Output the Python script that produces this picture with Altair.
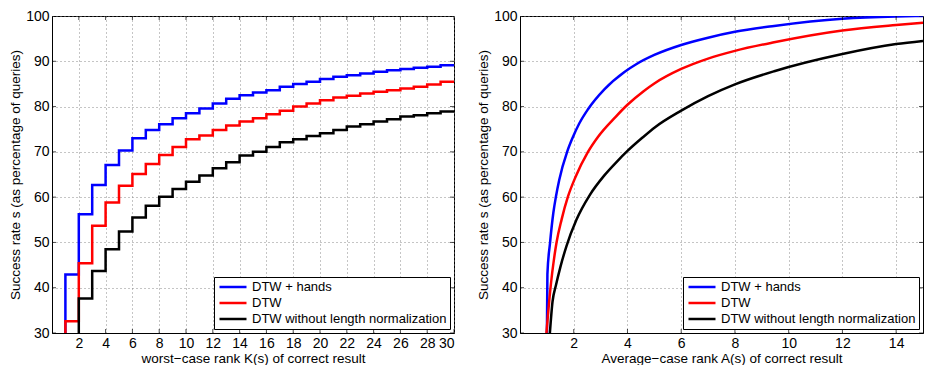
import altair as alt
import pandas as pd

series_names = ["DTW + hands", "DTW", "DTW without length normalization"]
series_colors = ["#0000ff", "#ff0000", "#000000"]

# ---- left panel: worst-case rank K(s), stair plot ----
rank_k = list(range(0, 31))
hands_k = [0, 42.9, 56.2, 62.7, 67.1, 70.3, 73.0, 74.8, 76.1, 77.4, 78.5, 79.6,
           80.7, 81.7, 82.5, 83.1, 83.6, 84.4, 85.0, 85.5, 86.1, 86.6, 86.9,
           87.3, 87.7, 88.0, 88.3, 88.6, 88.8, 89.1, 89.1]
dtw_k = [0, 32.6, 45.4, 53.7, 58.8, 62.5, 65.1, 67.3, 69.3, 71.1, 72.8, 73.6,
         74.8, 75.8, 76.7, 77.4, 78.3, 79.1, 80.0, 80.7, 81.4, 82.0, 82.4,
         82.9, 83.3, 83.6, 84.0, 84.4, 84.9, 85.5, 85.5]
nolen_k = [0, 26.0, 37.6, 43.7, 48.5, 52.4, 55.5, 58.1, 60.1, 61.8, 63.4, 64.8,
           66.4, 67.7, 69.2, 70.0, 71.1, 72.1, 72.8, 73.5, 74.1, 74.8, 75.6,
           76.1, 76.7, 77.2, 77.8, 78.1, 78.5, 78.9, 78.9]

# ---- right panel: average-case rank A(s), smooth curves ----
hands_a = [1.00, 1.02, 1.12, 1.24, 1.34, 1.46, 1.76, 1.95, 2.2, 2.53, 3.14,
           3.9, 4.31, 5.0, 6.0, 7.0, 8.0, 9.46, 12.0, 14.0, 15.0]
hands_s = [29.0, 43.0, 50.0, 56.5, 60.2, 63.8, 70.1, 73.0, 76.2, 79.4, 83.8,
           87.7, 89.3, 91.4, 93.6, 95.2, 96.5, 97.8, 99.4, 99.9, 100.0]
dtw_a = [0.97, 1.12, 1.36, 1.55, 1.79, 2.07, 2.53, 2.9, 3.57, 4.0, 4.6, 5.0,
         6.0, 7.0, 8.0, 9.46, 12.0, 14.0, 15.0]
dtw_s = [29.0, 39.1, 50.0, 55.1, 60.2, 64.5, 70.0, 73.3, 77.8, 80.4, 83.4, 85.1,
         88.3, 90.6, 92.3, 94.2, 96.8, 98.0, 98.5]
nolen_a = [1.10, 1.21, 1.34, 1.5, 1.73, 2.1, 2.59, 3.14, 3.6, 4.0, 4.55, 5.04,
           6.0, 7.0, 8.0, 9.46, 12.0, 14.0, 15.0]
nolen_s = [29.0, 36.9, 40.6, 44.5, 49.2, 55.0, 60.4, 64.8, 67.8, 70.2, 73.1,
           75.5, 79.1, 82.3, 84.9, 87.8, 91.6, 93.8, 94.5]

left_xticks = list(range(2, 31, 2))
right_xticks = list(range(2, 15, 2))
yticks = list(range(30, 101, 10))

FONT = "Liberation Sans"

left_df = pd.concat([
    pd.DataFrame({"K": rank_k, "s": v, "series": n, "order": i})
    for i, (n, v) in enumerate(zip(series_names, [hands_k, dtw_k, nolen_k]))
])
right_df = pd.concat([
    pd.DataFrame({"A": a, "s": v, "series": n, "order": i})
    for i, (n, a, v) in enumerate(zip(series_names, [hands_a, dtw_a, nolen_a],
                                      [hands_s, dtw_s, nolen_s]))
])

color = alt.Color("series:N", title=None,
                  scale=alt.Scale(domain=series_names, range=series_colors))


def panel(df, xfield, xdomain, xticks, xtitle, w, h):
    x_enc = alt.X(f"{xfield}:Q", scale=alt.Scale(domain=xdomain, nice=False, zero=False),
                  axis=alt.Axis(values=xticks, title=xtitle, grid=True))
    y_enc = alt.Y("s:Q", scale=alt.Scale(domain=[30, 100], nice=False, zero=False),
                  axis=alt.Axis(values=yticks, title="Success rate s (as percentage of queries)",
                                grid=True))
    interp = "step-after" if xfield == "K" else "monotone"
    lines = alt.Chart(df).mark_line(interpolate=interp, strokeWidth=2.5, clip=True,
                                    strokeJoin="miter").encode(
        x=x_enc, y=y_enc, color=color, detail="series:N", order="order:Q")
    xt = pd.DataFrame({xfield: xticks})
    yt = pd.DataFrame({"s": yticks})
    tick = dict(size=8, thickness=1, color="black", clip=True)
    top = alt.Chart(xt).mark_tick(orient="vertical", **tick).encode(x=x_enc, y=alt.value(0))
    bot = alt.Chart(xt).mark_tick(orient="vertical", **tick).encode(x=x_enc, y=alt.value(h))
    lft = alt.Chart(yt).mark_tick(orient="horizontal", **tick).encode(y=y_enc, x=alt.value(0))
    rgt = alt.Chart(yt).mark_tick(orient="horizontal", **tick).encode(y=y_enc, x=alt.value(w))
    return alt.layer(lines, top, bot, lft, rgt).properties(width=w, height=h)


left = panel(left_df, "K", [0, 30], left_xticks,
             "worst\u2212case rank K(s) of correct result", 402, 317)
right = panel(right_df, "A", [0, 15], right_xticks,
              "Average\u2212case rank A(s) of correct result", 403, 317)

chart = alt.hconcat(left, right, spacing=21).resolve_scale(
    color="independent").resolve_legend(color="independent").properties(
    padding={"left": 0, "top": 0, "right": 0, "bottom": 0}
).configure_view(stroke="black", strokeWidth=1).configure_axis(
    labelFont=FONT, titleFont=FONT, labelFontSize=14, titleFontSize=13.5,
    titleFontWeight="normal", labelColor="black", titleColor="black",
    domainColor="black", ticks=False, labelPadding=3,
    gridColor="#808080", gridDash=[1, 3], gridWidth=1, gridOpacity=0.9,
).configure_axisX(titlePadding=1).configure_axisY(titlePadding=3).configure_legend(
    orient="bottom-right", offset=4, strokeColor="black", fillColor="white",
    padding=3, labelFont=FONT, labelFontSize=13, labelColor="black", labelLimit=400,
    symbolType="M-0.82,0H4.09", symbolSize=121, symbolStrokeWidth=2.5,
    labelOffset=21, rowPadding=2,
)

chart.save("out.html", embed_options={"renderer": "svg", "actions": False})
